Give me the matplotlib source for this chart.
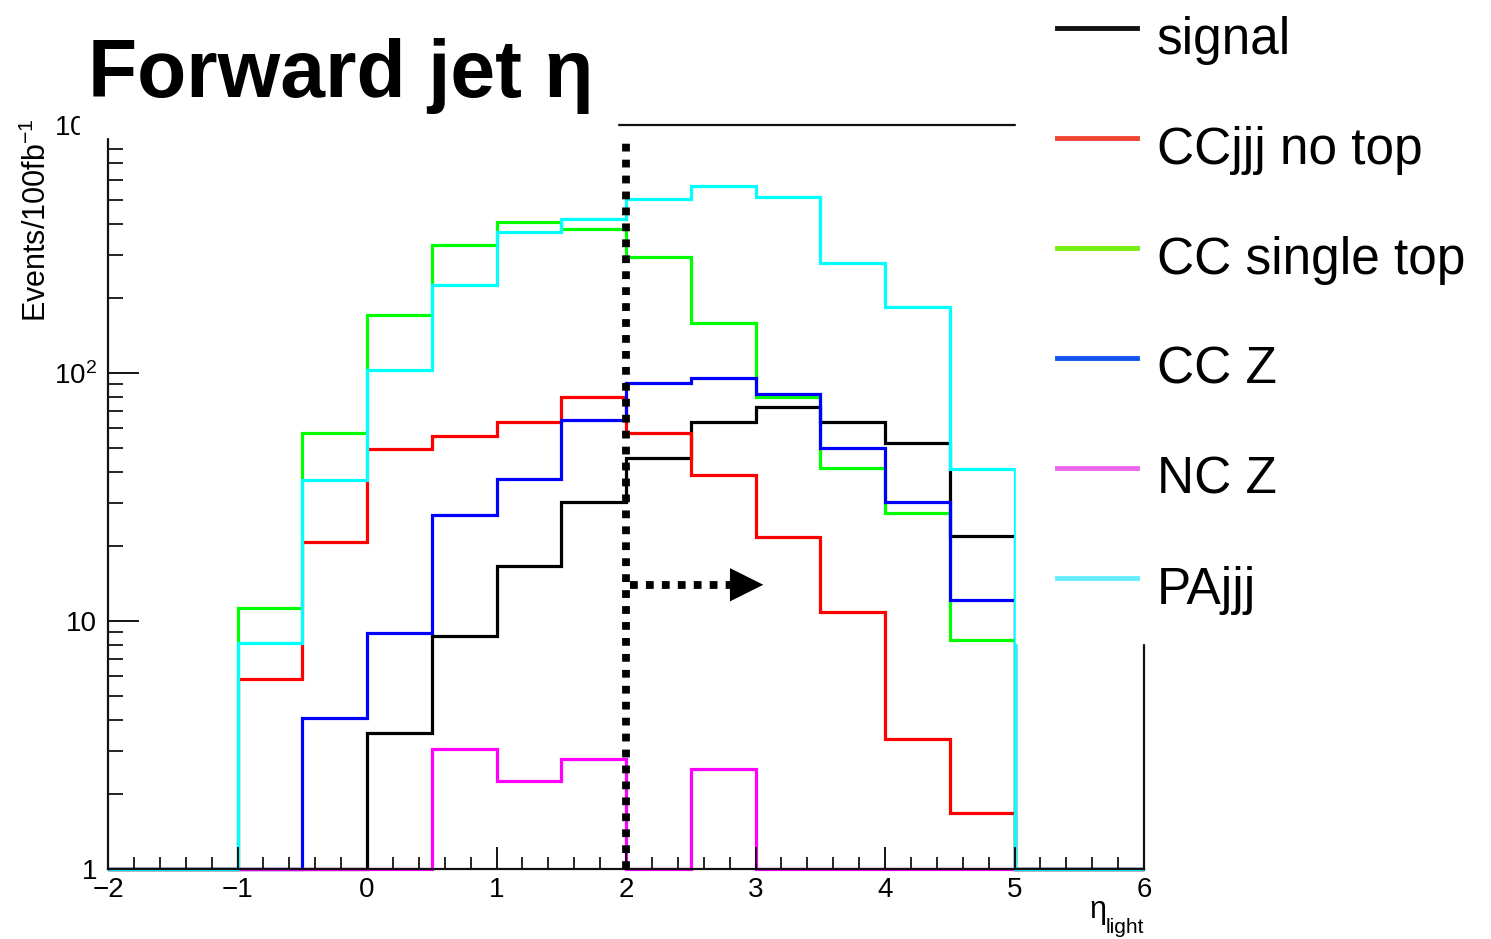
import numpy as np
import matplotlib
matplotlib.use('Agg')
import matplotlib.pyplot as plt
from matplotlib.patches import Rectangle
from matplotlib.lines import Line2D
from matplotlib.ticker import FixedLocator, FixedFormatter, NullFormatter

plt.rcParams['font.family'] = ['Liberation Sans', 'DejaVu Sans']
plt.rcParams['mathtext.fontset'] = 'custom'
plt.rcParams['mathtext.rm'] = 'Liberation Sans'
plt.rcParams['mathtext.it'] = 'Liberation Sans:italic'

W, H = 1491, 939

# eta bins from -2 to 6, width 0.5; empty bins sit on the frame (1)
edges = np.arange(-2, 6.01, 0.5)
signal = [1, 1, 1, 1, 3.54, 8.7, 16.7, 30.3, 45.3, 63.3, 73.1, 63.3, 52, 22.1, 1, 1]
ccjjj_notop = [1, 1, 5.84, 20.8, 49.4, 55.7, 63.5, 80.2, 57.4, 38.7, 21.9, 10.9, 3.34, 1.68, 1, 1]
cc_singletop = [1, 1, 11.3, 57.3, 171, 328, 406, 380, 294, 159, 80, 41.4, 27.3, 8.4, 1, 1]
cc_z = [1, 1, 1, 4.06, 8.95, 26.8, 37.4, 64.6, 91.4, 95.7, 82, 50, 30.1, 12.2, 1, 1]
nc_z = [1, 1, 1, 1, 1, 3.04, 2.26, 2.77, 1, 2.52, 1, 1, 1, 1, 1, 1]
pajjj = [1, 1, 8.15, 37, 103, 226, 370, 417, 501, 567, 514, 278, 185, 41, 1, 1]

labels = ['signal', 'CCjjj no top', 'CC single top', 'CC Z', 'NC Z', 'PAjjj']
hist_colors = ['#000000', '#ff0000', '#00ff00', '#0000ff', '#ff00ff', '#00ffff']
legend_colors = ['#111111', '#ee4433', '#77ee11', '#1155ee', '#ee66ee', '#66eeff']
series = [signal, ccjjj_notop, cc_singletop, cc_z, nc_z, pajjj]

cut = 2.0
arrow_y = 14

fig = plt.figure(figsize=(W / 100, H / 100), dpi=100)
ax = fig.add_axes([108 / W, 1 - 869 / H, (1144 - 108) / W, (869 - 125) / H])

for vals, c in zip(series, hist_colors):
    ax.stairs(vals, edges, baseline=None, color=c, lw=2.3, clip_on=False)

ax.set_yscale('log')
ax.set_xlim(-2, 6)
ax.set_ylim(1, 1000)

# cut line and arrow
ax.plot([cut, cut], [1, 900], color='k', lw=5.6, linestyle=(0, (1, 1.05)),
        dash_capstyle='butt', clip_on=False, zorder=4)
ax.plot([cut + 0.03, 2.8], [arrow_y, arrow_y], color='k', lw=5.6,
        linestyle=(0, (1, 1.05)), dash_capstyle='butt', zorder=4)
ax.annotate('', xy=(3.06, arrow_y), xytext=(2.8, arrow_y),
            arrowprops=dict(arrowstyle='-|>,head_length=0.4,head_width=0.2',
                            mutation_scale=60, color='k', lw=0,
                            shrinkA=0, shrinkB=0), zorder=4)

# axes ticks, ROOT-ish
ax.xaxis.set_major_locator(FixedLocator(np.arange(-2, 7, 1)))
ax.xaxis.set_minor_locator(FixedLocator(np.arange(-2, 6.01, 0.2)))
ax.yaxis.set_major_locator(FixedLocator([1, 10, 100, 1000]))
ax.yaxis.set_major_formatter(FixedFormatter(['1', '10', '$10^{2}$', '$10^{3}$']))
ax.yaxis.set_minor_locator(FixedLocator([m * 10 ** d for d in range(3) for m in range(2, 10)]))
ax.yaxis.set_minor_formatter(NullFormatter())
ax.tick_params(axis='x', which='major', direction='in', length=16, width=1.3,
               labelsize=20, pad=6, top=False)
ax.tick_params(axis='x', which='minor', direction='in', length=8.5, width=1.2, top=False)
ax.tick_params(axis='y', which='major', direction='in', length=22, width=1.3,
               labelsize=20, pad=8, right=False)
ax.tick_params(axis='y', which='minor', direction='in', length=11, width=1.2, right=False)
for s in ['left', 'bottom', 'top', 'right']:
    ax.spines[s].set_linewidth(1.6)
    ax.spines[s].set_color('#111111')

# blank patches where the slide covers the frame
fig.add_artist(Rectangle((80 / W, 1 - 137 / H), (617 - 80) / W, 137 / H,
                         transform=fig.transFigure, color='white', zorder=5))
fig.add_artist(Rectangle((1016 / W, 1 - 643 / H), (W - 1016) / W, 643 / H,
                         transform=fig.transFigure, color='white', zorder=5))

fig.text(88 / W, 1 - 97 / H, 'Forward jet η', fontsize=58, fontweight='bold',
         va='baseline', ha='left', zorder=6)

fig.text(37 / W, 1 - 118 / H, 'Events/100fb$^{-1}$', rotation=90, fontsize=22,
         ha='center', va='top')
fig.text(1089 / W, 1 - 918 / H, 'η', fontsize=22, ha='left', va='baseline')
fig.text(1144 / W, 1 - 933 / H, 'light', fontsize=15, ha='right', va='baseline')

# legend
for i, (lab, c) in enumerate(zip(labels, legend_colors)):
    yl = 28 + 110 * i
    fig.add_artist(Line2D([1057 / W, 1137 / W], [1 - yl / H, 1 - yl / H],
                          transform=fig.transFigure, color=c, lw=3.5, zorder=6))
    fig.text(1157 / W, 1 - (yl + 26) / H, lab, fontsize=37, ha='left',
             va='baseline', zorder=6)

fig.savefig('out.png', dpi=100)
